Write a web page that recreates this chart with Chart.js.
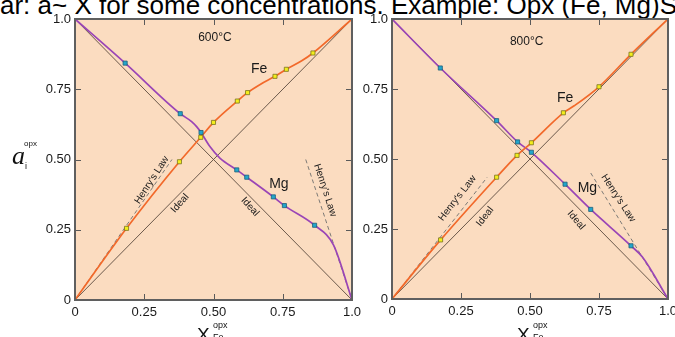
<!DOCTYPE html>
<html><head><meta charset="utf-8">
<script src="https://cdn.jsdelivr.net/npm/chart.js@4"></script>
<style>
html,body{margin:0;padding:0;background:#fff;}
#wrap{position:relative;width:675px;height:337px;overflow:hidden;font-family:"Liberation Sans",Arial,sans-serif;}
#title{position:absolute;left:0;top:-8px;white-space:nowrap;font-size:26px;line-height:26px;color:#000;}
canvas{position:absolute;top:0;}
.ax{position:absolute;white-space:nowrap;color:#111;line-height:1;}
.ya{font-family:"Liberation Serif","Times New Roman",serif;font-style:italic;font-size:26px;}
.sm{font-family:"Liberation Sans",Arial,sans-serif;font-size:8px;font-style:normal;}
.xa{font-family:"Liberation Sans",Arial,sans-serif;font-size:19px;}
</style></head>
<body><div id="wrap">
<div id="title">ar: a~ X for some concentrations. Example: Opx (Fe, Mg)SiO₃</div>
<canvas id="c1" width="365" height="337" style="left:0"></canvas>
<canvas id="c2" width="315" height="337" style="left:360px"></canvas>
<div class="ax ya" style="left:12px;top:143px;">a</div>
<div class="ax sm" style="left:24px;top:140px;">opx</div>
<div class="ax sm" style="left:25px;top:162px;font-size:9px;">i</div>
<div class="ax xa" style="left:197px;top:325px;">X</div>
<div class="ax sm" style="left:213px;top:321px;font-size:9px;">opx</div>
<div class="ax sm" style="left:213px;top:333px;font-size:9px;">Fe</div>
<div class="ax xa" style="left:517px;top:325px;">X</div>
<div class="ax sm" style="left:533px;top:321px;font-size:9px;">opx</div>
<div class="ax sm" style="left:533px;top:333px;font-size:9px;">Fe</div>
</div>
<script>
// ---- tick values / labels ----
const tickValues = [0, 0.25, 0.5, 0.75, 1];
const tickLabels = ['0', '0.25', '0.50', '0.75', '1.0'];

// ---- 600 °C ----
const fe600CurveX = [0, 0.186, 0.377, 0.454, 0.5, 0.586, 0.623, 0.67, 0.722, 0.763, 0.82, 0.859, 1];
const fe600CurveY = [0, 0.255, 0.492, 0.579, 0.632, 0.708, 0.738, 0.768, 0.796, 0.821, 0.852, 0.879, 1];
const fe600PtsX = [0.186, 0.377, 0.454, 0.5, 0.586, 0.623, 0.722, 0.763, 0.859];
const fe600PtsY = [0.255, 0.492, 0.579, 0.632, 0.708, 0.738, 0.796, 0.821, 0.879];
const mg600CurveX = [0, 0.181, 0.38, 0.421, 0.439, 0.455, 0.487, 0.523, 0.584, 0.62, 0.716, 0.756, 0.865, 0.933, 1];
const mg600CurveY = [1, 0.843, 0.663, 0.635, 0.617, 0.596, 0.546, 0.505, 0.463, 0.437, 0.367, 0.336, 0.266, 0.196, 0];
const mg600PtsX = [0.181, 0.38, 0.455, 0.584, 0.62, 0.716, 0.756, 0.865];
const mg600PtsY = [0.843, 0.663, 0.596, 0.463, 0.437, 0.367, 0.336, 0.266];
const henryFe600X = [0, 0.35];
const henryFe600Y = [0, 0.50];
const henryMg600X = [0.833, 1];
const henryMg600Y = [0.50, 0];

// ---- 800 °C ----
const fe800CurveX = [0, 0.176, 0.379, 0.453, 0.505, 0.621, 0.66, 0.75, 0.866, 1];
const fe800CurveY = [0, 0.211, 0.435, 0.513, 0.558, 0.665, 0.69, 0.758, 0.874, 1];
const fe800PtsX = [0.176, 0.379, 0.453, 0.505, 0.621, 0.75, 0.866];
const fe800PtsY = [0.211, 0.435, 0.513, 0.558, 0.665, 0.758, 0.874];
const mg800CurveX = [0, 0.175, 0.379, 0.455, 0.505, 0.627, 0.72, 0.866, 0.908, 1];
const mg800CurveY = [1, 0.825, 0.637, 0.561, 0.524, 0.41, 0.32, 0.19, 0.149, 0];
const mg800PtsX = [0.175, 0.379, 0.455, 0.505, 0.627, 0.72, 0.866];
const mg800PtsY = [0.825, 0.637, 0.561, 0.524, 0.41, 0.32, 0.19];
const henryFe800X = [0, 0.345];
const henryFe800Y = [0, 0.435];
const henryMg800X = [0.72, 1];
const henryMg800Y = [0.45, 0];

// ideal solution lines
const idealFeX = [0, 1], idealFeY = [0, 1];
const idealMgX = [0, 1], idealMgY = [1, 0];

const FONT = '"Liberation Sans", Arial, sans-serif';
const pts = (xs, ys) => xs.map((x, i) => ({x, y: ys[i]}));

const deco = {
  id: 'deco',
  beforeDraw(chart) {
    const {ctx, chartArea: a} = chart;
    ctx.save();
    ctx.fillStyle = '#FBDCC0';
    ctx.fillRect(a.left, a.top, a.right - a.left, a.bottom - a.top);
    ctx.restore();
  },
  afterDraw(chart, args, opts) {
    const {ctx, chartArea: a, scales} = chart;
    const xs = scales.x, ys = scales.y;
    ctx.save();
    ctx.strokeStyle = '#5a5a5a';
    ctx.lineWidth = 1;
    ctx.beginPath();
    tickValues.slice(1, -1).forEach(v => {
      const px = Math.round(xs.getPixelForValue(v)) + 0.5;
      ctx.moveTo(px, a.bottom); ctx.lineTo(px, a.bottom - 6);
      ctx.moveTo(px, a.top); ctx.lineTo(px, a.top + 6);
      const py = Math.round(ys.getPixelForValue(v)) + 0.5;
      ctx.moveTo(a.left, py); ctx.lineTo(a.left + 6, py);
      ctx.moveTo(a.right, py); ctx.lineTo(a.right - 6, py);
    });
    ctx.stroke();
    ctx.lineWidth = 2;
    ctx.strokeStyle = '#5f5f5f';
    ctx.strokeRect(a.left, a.top, a.right - a.left, a.bottom - a.top);
    // labels
    ctx.fillStyle = '#1a1a1a';
    ctx.textAlign = 'center';
    ctx.textBaseline = 'middle';
    (opts.labels || []).forEach(l => {
      ctx.save();
      ctx.translate(xs.getPixelForValue(l.x), ys.getPixelForValue(l.y));
      ctx.rotate((l.rot || 0) * Math.PI / 180);
      ctx.font = l.size + 'px ' + FONT;
      ctx.fillText(l.text, 0, 0);
      ctx.restore();
    });
    ctx.restore();
  }
};

function scale(axis, size) {
  return {
    type: 'linear', min: 0, max: 1,
    grid: {display: false, drawTicks: false},
    border: {display: false},
    ticks: {
      padding: axis === 'x' ? 5 : 4,
      color: '#1a1a1a',
      font: {size: 13, family: FONT},
      callback: v => { const i = tickValues.indexOf(v); return i >= 0 ? tickLabels[i] : ''; }
    },
    afterBuildTicks: s => { s.ticks = tickValues.map(v => ({value: v})); },
    afterFit: s => {
      if (axis === 'x') { s.height = size; s.paddingLeft = 0; s.paddingRight = 0; }
      else { s.width = size; s.paddingTop = 0; s.paddingBottom = 0; }
    }
  };
}

function makeChart(id, d, yW, xH, pad, labels) {
  const line = (data, color, w, dash) => ({type: 'scatter', showLine: true, data, borderColor: color,
    backgroundColor: color, borderWidth: w, borderDash: dash || [], pointRadius: 0, pointHoverRadius: 0, tension: 0});
  const curve = (data, color) => ({type: 'scatter', showLine: true, data, borderColor: color, borderWidth: 1.7,
    pointRadius: 0, pointHoverRadius: 0, cubicInterpolationMode: 'monotone'});
  const marks = (data, fill, edge) => ({type: 'scatter', showLine: false, data, backgroundColor: fill,
    borderColor: edge, borderWidth: 0.8, pointStyle: 'rect', pointRadius: 2.9});
  new Chart(document.getElementById(id), {
    type: 'scatter',
    data: {datasets: [
      marks(pts(d.fePx, d.fePy), '#F3EE1C', '#7a7420'),
      marks(pts(d.mgPx, d.mgPy), '#22A6CC', '#1d5f78'),
      curve(pts(d.feCx, d.feCy), '#F2692A'),
      curve(pts(d.mgCx, d.mgCy), '#9A45B6'),
      line(pts(d.hFeX, d.hFeY), '#7d7a76', 1, [4, 3]),
      line(pts(d.hMgX, d.hMgY), '#7d7a76', 1, [4, 3]),
      line(pts(idealFeX, idealFeY), '#5b4b3e', 0.9),
      line(pts(idealMgX, idealMgY), '#5b4b3e', 0.9)
    ]},
    options: {
      responsive: false, animation: false, events: [],
      layout: {padding: pad, autoPadding: false},
      scales: {x: scale('x', xH), y: scale('y', yW)},
      plugins: {legend: {display: false}, tooltip: {enabled: false}, deco: {labels}}
    },
    plugins: [deco]
  });
}

makeChart('c1', {
  feCx: fe600CurveX, feCy: fe600CurveY, fePx: fe600PtsX, fePy: fe600PtsY,
  mgCx: mg600CurveX, mgCy: mg600CurveY, mgPx: mg600PtsX, mgPy: mg600PtsY,
  hFeX: henryFe600X, hFeY: henryFe600Y, hMgX: henryMg600X, hMgY: henryMg600Y
}, 75, 37, {left: 0, right: 13, top: 19, bottom: 0}, [
  {text: '600°C', x: 0.505, y: 0.932, size: 12},
  {text: 'Fe', x: 0.665, y: 0.822, size: 14},
  {text: 'Mg', x: 0.736, y: 0.413, size: 14},
  {text: "Henry's Law", x: 0.277, y: 0.427, rot: -57, size: 10},
  {text: 'Ideal', x: 0.379, y: 0.344, rot: -48, size: 10},
  {text: 'Ideal', x: 0.632, y: 0.332, rot: 48, size: 10},
  {text: "Henry's Law", x: 0.903, y: 0.391, rot: 72, size: 10}
]);

makeChart('c2', {
  feCx: fe800CurveX, feCy: fe800CurveY, fePx: fe800PtsX, fePy: fe800PtsY,
  mgCx: mg800CurveX, mgCy: mg800CurveY, mgPx: mg800PtsX, mgPy: mg800PtsY,
  hFeX: henryFe800X, hFeY: henryFe800Y, hMgX: henryMg800X, hMgY: henryMg800Y
}, 32, 38, {left: 0, right: 7, top: 19, bottom: 0}, [
  {text: '800°C', x: 0.488, y: 0.919, size: 12},
  {text: 'Fe', x: 0.627, y: 0.717, size: 14},
  {text: 'Mg', x: 0.708, y: 0.395, size: 14},
  {text: "Henry's Law", x: 0.237, y: 0.36, rot: -52, size: 10},
  {text: 'Ideal', x: 0.337, y: 0.294, rot: -52, size: 10},
  {text: 'Ideal', x: 0.667, y: 0.282, rot: 50, size: 10},
  {text: "Henry's Law", x: 0.82, y: 0.36, rot: 57, size: 10}
]);
</script>
</body></html>
